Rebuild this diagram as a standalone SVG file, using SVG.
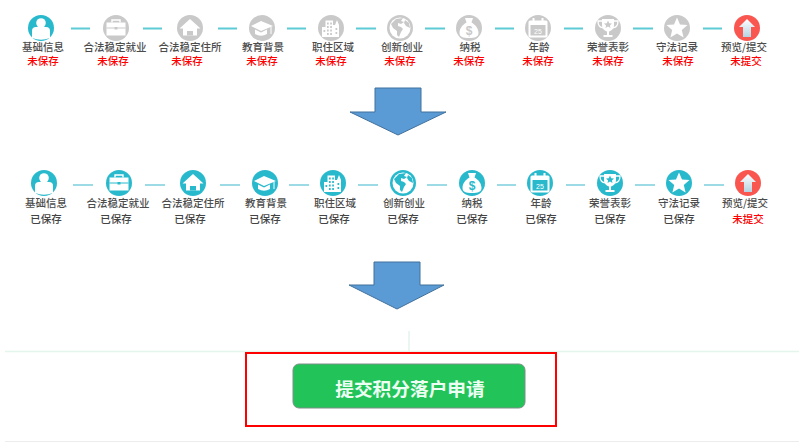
<svg xmlns="http://www.w3.org/2000/svg" width="799" height="442" viewBox="0 0 799 442">
<style>
text{font-family:"Noto Sans CJK SC","Liberation Sans",sans-serif;text-anchor:middle}
.lb{font-size:10.5px;fill:#4c4c4c;font-weight:500}
.st{font-size:10.5px;fill:#444;font-weight:500}
.un{font-size:10.5px;fill:#ff0000;font-weight:500}
.gy{color:#c9c9c9}
.te{color:#29b9cd}
.re{color:#f95650}
.c{fill:currentColor}
.w{fill:#fff}
.k{fill:currentColor;stroke:none}
.cn1{stroke:#5ccbd6;stroke-width:2;fill:none}
.cn2{stroke:#3bb8cc;stroke-width:1.2;fill:none}
.arr{fill:#5b9bd5;stroke:#41719c;stroke-width:1}
.ic{font-family:"Liberation Sans",sans-serif;font-weight:bold;fill:currentColor}
</style>
<defs>
<filter id="soft" x="-5%" y="-10%" width="110%" height="120%"><feGaussianBlur stdDeviation="0.6"/></filter>
<linearGradient id="up" x1="0" y1="0" x2="0" y2="1"><stop offset="0" stop-color="#ffffff"/><stop offset="1" stop-color="#b5d3e2"/></linearGradient>
<symbol id="person" overflow="visible"><circle class="w" cx="0" cy="-5" r="4.8"/><path class="w" d="M-9 10V3Q-9-1-5-1H5Q9-1 9 3V10Q0 13.500-9 10Z"/></symbol>
<symbol id="brief" overflow="visible"><path class="w" d="M-9.500-5.500H9.500V7.500H-9.500Z"/><path fill="none" stroke="#fff" stroke-width="1.400" d="M-4-5.500V-8H4V-5.500"/><path fill="none" stroke="currentColor" stroke-width="1" d="M-9.500 0H9.500"/><rect class="k" x="-1.500" y="-1" width="3" height="2.500"/></symbol>
<symbol id="house" overflow="visible"><path class="w" d="M0-9L10.500 0.500H7V7.500H-7V0.500H-10.500Z"/><rect class="k" x="-3" y="3" width="6" height="4.500"/></symbol>
<symbol id="cap" overflow="visible"><path class="w" d="M-1-7L11-2-1 3-11-2Z"/><path class="w" d="M-7 1.500L-1 4.500 5 1.500V6Q-1 9.500-7 6Z"/><path fill="none" stroke="#fff" stroke-width="1" d="M9-1V6"/></symbol>
<symbol id="city" overflow="visible"><path class="w" d="M-9 9V-1H-5.500V-7.500H2V-3H4L6-8 8-3V9Z"/><g class="k"><rect x="-4" y="-5.500" width="1.700" height="2"/><rect x="-0.800" y="-5.500" width="1.700" height="2"/><rect x="-4" y="-2" width="1.700" height="2"/><rect x="-0.800" y="-2" width="1.700" height="2"/><rect x="-4" y="1.500" width="1.700" height="2"/><rect x="-0.800" y="1.500" width="1.700" height="2"/><rect x="-7.500" y="2" width="1.700" height="2"/><rect x="-4" y="5" width="1.700" height="2"/><rect x="-0.800" y="5" width="1.700" height="2"/><rect x="4.500" y="0" width="1.700" height="2"/><rect x="4.500" y="4" width="1.700" height="2"/></g></symbol>
<symbol id="globe" overflow="visible"><circle class="w" cx="0" cy="0" r="10.500"/><path class="k" d="M-9-4L-4-9 3-10 1-7 4-6 1-4-2-5-2-2 1-1 3 1 1 4-1 9-3 7-3 3-7 0Z"/><path class="k" d="M5-8L9-5 10 0 6-2 4-5Z"/></symbol>
<symbol id="bag" overflow="visible"><path class="w" d="M-4-10L4-10 2.500-5.500C7-3 9.500 1 9.500 5 9.500 9 6 10 0 10-6 10-9.500 9-9.500 5-9.500 1-7-3-2.500-5.500Z"/><text class="ic" x="0" y="7" style="font-size:12px">$</text></symbol>
<symbol id="cal" overflow="visible"><rect class="w" x="-9.500" y="-7.500" width="19" height="17" rx="1.500"/><rect class="k" x="-7.500" y="-3" width="15" height="10.500"/><rect class="w" x="-5.500" y="-10" width="2" height="4"/><rect class="w" x="3.500" y="-10" width="2" height="4"/><text x="0" y="5.500" style="font-size:7px;fill:#fff;font-family:'Liberation Sans',sans-serif">25</text></symbol>
<symbol id="cup" overflow="visible"><path class="w" d="M-6-9H6V-3C6 1 3 3 1 3.500V7H4.500V9H-4.500V7H-1V3.500C-3 3-6 1-6-3Z"/><path fill="none" stroke="#fff" stroke-width="1.300" d="M-6-7H-10C-10-2-8-1-5 0M6-7H10C10-2 8-1 5 0"/><path class="k" d="M0-7.500L1.200-4.700 4-4.500 1.900-2.600 2.500 0 0-1.400-2.500 0-1.900-2.600-4-4.500-1.200-4.700Z"/></symbol>
<symbol id="star" overflow="visible"><path class="w" d="M0-10.500L3-3.600 10.500-3 4.800 2 6.600 9.500 0 5.500-6.600 9.500-4.800 2-10.500-3-3-3.600Z"/></symbol>
<symbol id="upa" overflow="visible"><path fill="url(#up)" d="M0-9L8-1H4V9H-4V-1H-8Z"/></symbol>
</defs>
<rect width="799" height="442" fill="#fff"/>
<g id="connectors">
<path class="cn1" d="M71 28.500H90M143 28.500H162M218 28.500H237M287 28.500H306M356 28.500H376M425 28.500H445M495 28.500H514M564 28.500H583M633 28.500H653M703 28.500H722"/>
<path class="cn2" d="M73 185H93M145 185H165M220 185H240M289 185H309M358 185H378M427 185H447M497 185H516M566 185H585M635 185H655M704 185H724"/>
</g>
<g id="a1"><circle class="te c" cx="41" cy="28" r="13"/><use class="te" href="#person" x="41" y="28"/><text class="lb" x="43" y="50.500">基础信息</text><text class="un" x="43" y="65">未保存</text></g>
<g id="a2"><circle class="gy c" cx="116" cy="28" r="13"/><use class="gy" href="#brief" x="116" y="28"/><text class="lb" x="115" y="50.500">合法稳定就业</text><text class="un" x="113" y="65">未保存</text></g>
<g id="a3"><circle class="gy c" cx="190" cy="28" r="13"/><use class="gy" href="#house" x="190" y="28"/><text class="lb" x="190" y="50.500">合法稳定住所</text><text class="un" x="187" y="65">未保存</text></g>
<g id="a4"><circle class="gy c" cx="262" cy="28" r="13"/><use class="gy" href="#cap" x="262" y="28"/><text class="lb" x="263" y="50.500">教育背景</text><text class="un" x="262" y="65">未保存</text></g>
<g id="a5"><circle class="gy c" cx="331" cy="28" r="13"/><use class="gy" href="#city" x="331" y="28"/><text class="lb" x="333" y="50.500">职住区域</text><text class="un" x="331" y="65">未保存</text></g>
<g id="a6"><circle class="gy c" cx="400" cy="28" r="13"/><use class="gy" href="#globe" x="400" y="28"/><text class="lb" x="402" y="50.500">创新创业</text><text class="un" x="400" y="65">未保存</text></g>
<g id="a7"><circle class="gy c" cx="469" cy="28" r="13"/><use class="gy" href="#bag" x="469" y="28"/><text class="lb" x="470" y="50.500">纳税</text><text class="un" x="469" y="65">未保存</text></g>
<g id="a8"><circle class="gy c" cx="538" cy="28" r="13"/><use class="gy" href="#cal" x="538" y="28"/><text class="lb" x="539" y="50.500">年龄</text><text class="un" x="538" y="65">未保存</text></g>
<g id="a9"><circle class="gy c" cx="608" cy="28" r="13"/><use class="gy" href="#cup" x="608" y="28"/><text class="lb" x="608" y="50.500">荣誉表彰</text><text class="un" x="608" y="65">未保存</text></g>
<g id="a10"><circle class="gy c" cx="677" cy="28" r="13"/><use class="gy" href="#star" x="677" y="28"/><text class="lb" x="677" y="50.500">守法记录</text><text class="un" x="678" y="65">未保存</text></g>
<g id="a11"><circle class="re c" cx="747" cy="28" r="13"/><use class="re" href="#upa" x="747" y="28"/><text class="lb" x="744" y="50.500">预览/提交</text><text class="un" x="746" y="65">未提交</text></g>
<path id="arrow1" class="arr" d="M375 88H421V112H446L398 135 350 112H375Z"/>
<g id="b1"><circle class="te c" cx="44" cy="183" r="13"/><use class="te" href="#person" x="44" y="183"/><text class="lb" x="46" y="207">基础信息</text><text class="st" x="46" y="223">已保存</text></g>
<g id="b2"><circle class="te c" cx="119" cy="183" r="13"/><use class="te" href="#brief" x="119" y="183"/><text class="lb" x="118" y="207">合法稳定就业</text><text class="st" x="116" y="223">已保存</text></g>
<g id="b3"><circle class="te c" cx="193" cy="183" r="13"/><use class="te" href="#house" x="193" y="183"/><text class="lb" x="193" y="207">合法稳定住所</text><text class="st" x="190" y="223">已保存</text></g>
<g id="b4"><circle class="te c" cx="265" cy="183" r="13"/><use class="te" href="#cap" x="265" y="183"/><text class="lb" x="266" y="207">教育背景</text><text class="st" x="265" y="223">已保存</text></g>
<g id="b5"><circle class="te c" cx="333" cy="183" r="13"/><use class="te" href="#city" x="333" y="183"/><text class="lb" x="335" y="207">职住区域</text><text class="st" x="334" y="223">已保存</text></g>
<g id="b6"><circle class="te c" cx="403" cy="183" r="13"/><use class="te" href="#globe" x="403" y="183"/><text class="lb" x="404" y="207">创新创业</text><text class="st" x="403" y="223">已保存</text></g>
<g id="b7"><circle class="te c" cx="472" cy="183" r="13"/><use class="te" href="#bag" x="472" y="183"/><text class="lb" x="472" y="207">纳税</text><text class="st" x="472" y="223">已保存</text></g>
<g id="b8"><circle class="te c" cx="540" cy="183" r="13"/><use class="te" href="#cal" x="540" y="183"/><text class="lb" x="541" y="207">年龄</text><text class="st" x="541" y="223">已保存</text></g>
<g id="b9"><circle class="te c" cx="610" cy="183" r="13"/><use class="te" href="#cup" x="610" y="183"/><text class="lb" x="610" y="207">荣誉表彰</text><text class="st" x="610" y="223">已保存</text></g>
<g id="b10"><circle class="te c" cx="679" cy="183" r="13"/><use class="te" href="#star" x="679" y="183"/><text class="lb" x="679" y="207">守法记录</text><text class="st" x="679" y="223">已保存</text></g>
<g id="b11"><circle class="re c" cx="748" cy="183" r="13"/><use class="re" href="#upa" x="748" y="183"/><text class="lb" x="745" y="207">预览/提交</text><text class="un" x="748" y="223" font-weight="bold">未提交</text></g>
<path id="arrow2" class="arr" d="M374 262H420V285H444L397 309 349 285H374Z"/>
<g id="footer">
<path d="M5 351.500H799M409 331V351" stroke="#e3f5ec" stroke-width="1.500" fill="none"/>
<path d="M5 441.500H799" stroke="#ececec" stroke-width="1" fill="none"/>
</g>
<g id="submit">
<rect x="246" y="353" width="310" height="73" fill="#fff" stroke="#f00" stroke-width="2"/>
<rect x="293" y="364" width="232" height="44" rx="6" fill="#21c45a" stroke="#7d8f85" stroke-width="1" filter="url(#soft)"/>
<text x="410" y="395.500" style="font-size:18.700px;font-weight:bold;fill:#eefff3">提交积分落户申请</text>
</g>
</svg>
